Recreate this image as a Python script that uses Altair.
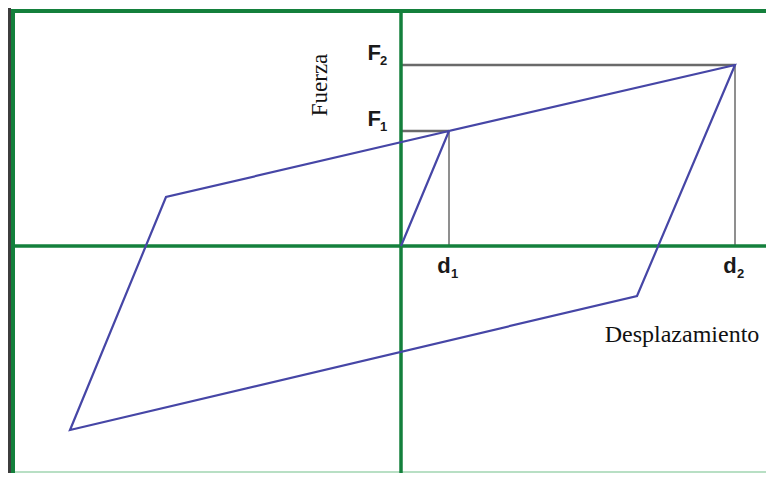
import altair as alt
import pandas as pd

# Hysteresis loop vertices (displacement, force), schematic units
loop_d = [0, 48, 334, 236, -331, -235, 48]
loop_f = [0, 115, 181, -50, -184, 49, 115]

# Reference points
d1, F1 = 48, 115
d2, F2 = 334, 181

GREEN = "#14803c"
BLUE = "#4646a6"
GRAY = "#6a6a6a"

W, H = 758, 465

loop = pd.DataFrame({"d": loop_d, "f": loop_f, "order": list(range(len(loop_d)))})

guides = pd.DataFrame({
    "x": [0, 0, d1, d2],
    "y": [F2, F1, F1, F2],
    "x2": [d2, d1, d1, d2],
    "y2": [F2, F1, 0, 0],
    "w": [2.5, 2.5, 1.5, 1.5],
})

xs = alt.Scale(domain=[-393, 365], nice=False, zero=False)
ys = alt.Scale(domain=[-227, 238], nice=False, zero=False)
X = lambda f: alt.X(f, type="quantitative", scale=xs, axis=None)
Y = lambda f: alt.Y(f, type="quantitative", scale=ys, axis=None)

base_pt = pd.DataFrame({"x": [0], "y": [0]})

# frame
left_dark = alt.Chart(base_pt).mark_rule(color="#3d3d3d", strokeWidth=3).encode(
    x=alt.value(1.5), y=alt.value(0), y2=alt.value(H))
left_green = alt.Chart(base_pt).mark_rule(color=GREEN, strokeWidth=4).encode(
    x=alt.value(5), y=alt.value(1), y2=alt.value(H))
top_green = alt.Chart(base_pt).mark_rule(color=GREEN, strokeWidth=4).encode(
    y=alt.value(3), x=alt.value(3), x2=alt.value(W))
bottom_line = alt.Chart(base_pt).mark_rule(color="#b8dfc4", strokeWidth=2).encode(
    y=alt.value(H - 1), x=alt.value(7), x2=alt.value(W))

# axes
vaxis = alt.Chart(base_pt).mark_rule(color=GREEN, strokeWidth=3.5).encode(
    x=X("x"), y=alt.value(3), y2=alt.value(H))
haxis = alt.Chart(base_pt).mark_rule(color=GREEN, strokeWidth=3.5).encode(
    y=Y("y"), x=alt.value(5), x2=alt.value(W))

guide_rules = alt.Chart(guides).mark_rule(color=GRAY).encode(
    x=X("x"), y=Y("y"), x2="x2", y2="y2",
    strokeWidth=alt.StrokeWidth("w:Q", scale=None))

loop_line = alt.Chart(loop).mark_line(color=BLUE, strokeWidth=2.2, strokeJoin="miter").encode(
    x=X("d"), y=Y("f"), order="order:Q")

lab_font = "Liberation Sans"
flabels = pd.DataFrame({"x": [0, 0], "y": [F2, F1], "main": ["F", "F"], "sub": ["2", "1"]})
dlabels = pd.DataFrame({"x": [d1, d2], "y": [0, 0], "main": ["d", "d"], "sub": ["1", "2"]})

f_main = alt.Chart(flabels).mark_text(font=lab_font, fontWeight="bold", fontSize=22,
                                      align="right", baseline="middle", dx=-20, dy=-12,
                                      color="#1a1a1a").encode(x=X("x"), y=Y("y"), text="main")
f_sub = alt.Chart(flabels).mark_text(font=lab_font, fontWeight="bold", fontSize=13,
                                     align="left", baseline="middle", dx=-21, dy=-4,
                                     color="#1a1a1a").encode(x=X("x"), y=Y("y"), text="sub")
d_main = alt.Chart(dlabels).mark_text(font=lab_font, fontWeight="bold", fontSize=22,
                                      align="center", baseline="middle", dx=-5, dy=20,
                                      color="#1a1a1a").encode(x=X("x"), y=Y("y"), text="main")
d_sub = alt.Chart(dlabels).mark_text(font=lab_font, fontWeight="bold", fontSize=13,
                                     align="left", baseline="middle", dx=2, dy=28,
                                     color="#1a1a1a").encode(x=X("x"), y=Y("y"), text="sub")

titles = pd.DataFrame({"x": [-74, 281], "y": [161, -96], "t": ["Fuerza", "Desplazamiento"]})
fuerza = alt.Chart(titles.iloc[[0]]).mark_text(font="Liberation Serif", fontSize=23, angle=270,
                                               align="center", baseline="alphabetic",
                                               color="#111").encode(x=X("x"), y=Y("y"), text="t")
despl = alt.Chart(titles.iloc[[1]]).mark_text(font="Liberation Serif", fontSize=24,
                                              align="center", baseline="alphabetic",
                                              color="#111").encode(x=X("x"), y=Y("y"), text="t")

chart = alt.layer(
    bottom_line, guide_rules, vaxis, haxis, loop_line,
    left_dark, left_green, top_green,
    f_main, f_sub, d_main, d_sub, fuerza, despl,
).properties(
    width=W, height=H, padding=0, autosize="none", background="white"
).configure_view(stroke=None)

chart.save("out.html", embed_options={"renderer": "svg", "actions": False})
